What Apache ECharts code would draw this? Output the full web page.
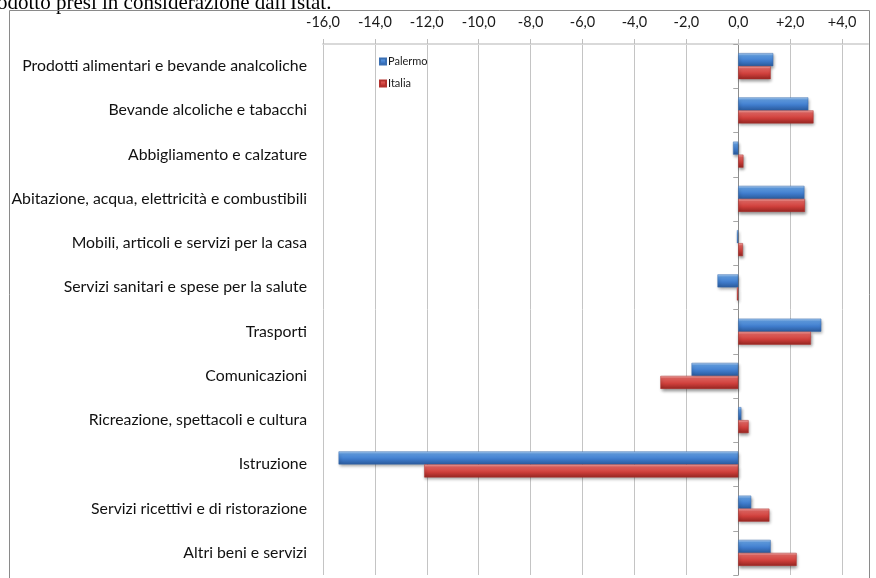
<!DOCTYPE html>
<html>
<head>
<meta charset="utf-8">
<script src="https://cdn.jsdelivr.net/npm/echarts@6/dist/echarts.min.js"></script>
<style>
  html, body { margin: 0; padding: 0; background: #fff; }
  #chart { width: 876px; height: 578px; }
</style>
</head>
<body>
<div id="chart"></div>
<script>
// Variazione annua dei prezzi per divisione di spesa: Palermo e Italia
const categories = [
  'Prodotti alimentari e bevande analcoliche',
  'Bevande alcoliche e tabacchi',
  'Abbigliamento e calzature',
  'Abitazione, acqua, elettricità e combustibili',
  'Mobili, articoli e servizi per la casa',
  'Servizi sanitari e spese per la salute',
  'Trasporti',
  'Comunicazioni',
  'Ricreazione, spettacoli e cultura',
  'Istruzione',
  'Servizi ricettivi e di ristorazione',
  'Altri beni e servizi'
];
const palermo = [1.35, 2.7, -0.2, 2.55, -0.05, -0.8, 3.2, -1.8, 0.12, -15.4, 0.5, 1.25];
const italia  = [1.25, 2.9, 0.2, 2.57, 0.18, -0.05, 2.8, -3.0, 0.4, -12.1, 1.2, 2.25];
const tickValues = [-16, -14, -12, -10, -8, -6, -4, -2, 0, 2, 4];
const seriesNames = ['Palermo', 'Italia'];

const FONT = 'Lato';

function fmtTick(v) {
  const s = Math.abs(v).toFixed(1).replace('.', ',');
  return (v > 0 ? '+' : v < 0 ? '-' : '') + s;
}

function barGradient(stops) {
  return new echarts.graphic.LinearGradient(0, 0, 0, 1, stops.map(function (s) {
    return { offset: s[0], color: s[1] };
  }));
}

const blueFill = barGradient([[0, '#b3d3f6'], [0.2, '#5e9ce3'], [0.6, '#3f7bcb'], [1, '#2a5a9b']]);
const redFill = barGradient([[0, '#f6b0ae'], [0.2, '#e3625e'], [0.6, '#cd3e3a'], [1, '#952622']]);

const chart = echarts.init(document.getElementById('chart'), null, { renderer: 'canvas' });

chart.setOption({
  animation: false,
  backgroundColor: '#ffffff',
  textStyle: { fontFamily: FONT },
  graphic: [
    {
      type: 'text',
      left: -3,
      top: -7,
      style: {
        text: "odotto presi in considerazione dall'Istat.",
        font: '21px "Liberation Serif"',
        fill: '#000'
      }
    },
    {
      type: 'rect',
      shape: { x: 9.5, y: 10.5, width: 860, height: 620 },
      style: { fill: 'none', stroke: '#8a8a8a', lineWidth: 1 },
      silent: true
    }
  ],
  legend: {
    data: seriesNames,
    orient: 'vertical',
    left: 374,
    top: 51,
    itemWidth: 6,
    itemHeight: 6,
    itemGap: 11,
    icon: 'rect',
    textStyle: { fontFamily: FONT, fontSize: 11, color: '#1a1a1a', padding: [0, 0, 0, -3] }
  },
  grid: { left: 323, right: 8, top: 44, bottom: 3, containLabel: false },
  xAxis: {
    type: 'value',
    position: 'top',
    min: -16,
    max: 5,
    axisLine: { show: true, lineStyle: { color: '#d9d9d9', width: 2 } },
    axisTick: { show: true, length: 5, lineStyle: { color: '#bfbfbf' }, customValues: tickValues },
    axisLabel: {
      customValues: tickValues,
      formatter: fmtTick,
      fontFamily: FONT,
      fontSize: 14.5,
      color: '#1a1a1a',
      margin: 14
    },
    splitLine: { show: true, lineStyle: { color: '#c4c4c4', width: 1 } }
  },
  yAxis: [
    {
      type: 'category',
      data: categories,
      inverse: true,
      position: 'left',
      axisLine: { show: false, onZero: false },
      axisTick: { show: false },
      axisLabel: { fontFamily: FONT, fontSize: 15.8, color: '#111', margin: 16 },
      splitLine: { show: false }
    },
    {
      type: 'category',
      data: categories,
      inverse: true,
      position: 'left',
      axisLine: { show: true, onZero: true, lineStyle: { color: '#8c8c8c', width: 1 } },
      axisTick: { show: true, length: 5, lineStyle: { color: '#a6a6a6' } },
      axisLabel: { show: false },
      splitLine: { show: false }
    }
  ],
  series: [
    {
      name: seriesNames[0],
      type: 'bar',
      yAxisIndex: 0,
      data: palermo,
      barWidth: 13,
      barGap: '0%',
      itemStyle: {
        color: blueFill,
        borderColor: '#3a6fb3',
        borderWidth: 0.5,
        shadowColor: 'rgba(0,0,0,0.4)',
        shadowBlur: 3,
        shadowOffsetX: 1,
        shadowOffsetY: 2
      }
    },
    {
      name: seriesNames[1],
      type: 'bar',
      yAxisIndex: 0,
      data: italia,
      barWidth: 13,
      barGap: '0%',
      itemStyle: {
        color: redFill,
        borderColor: '#b3322e',
        borderWidth: 0.5,
        shadowColor: 'rgba(0,0,0,0.4)',
        shadowBlur: 3,
        shadowOffsetX: 1,
        shadowOffsetY: 2
      }
    }
  ]
});
</script>
</body>
</html>
